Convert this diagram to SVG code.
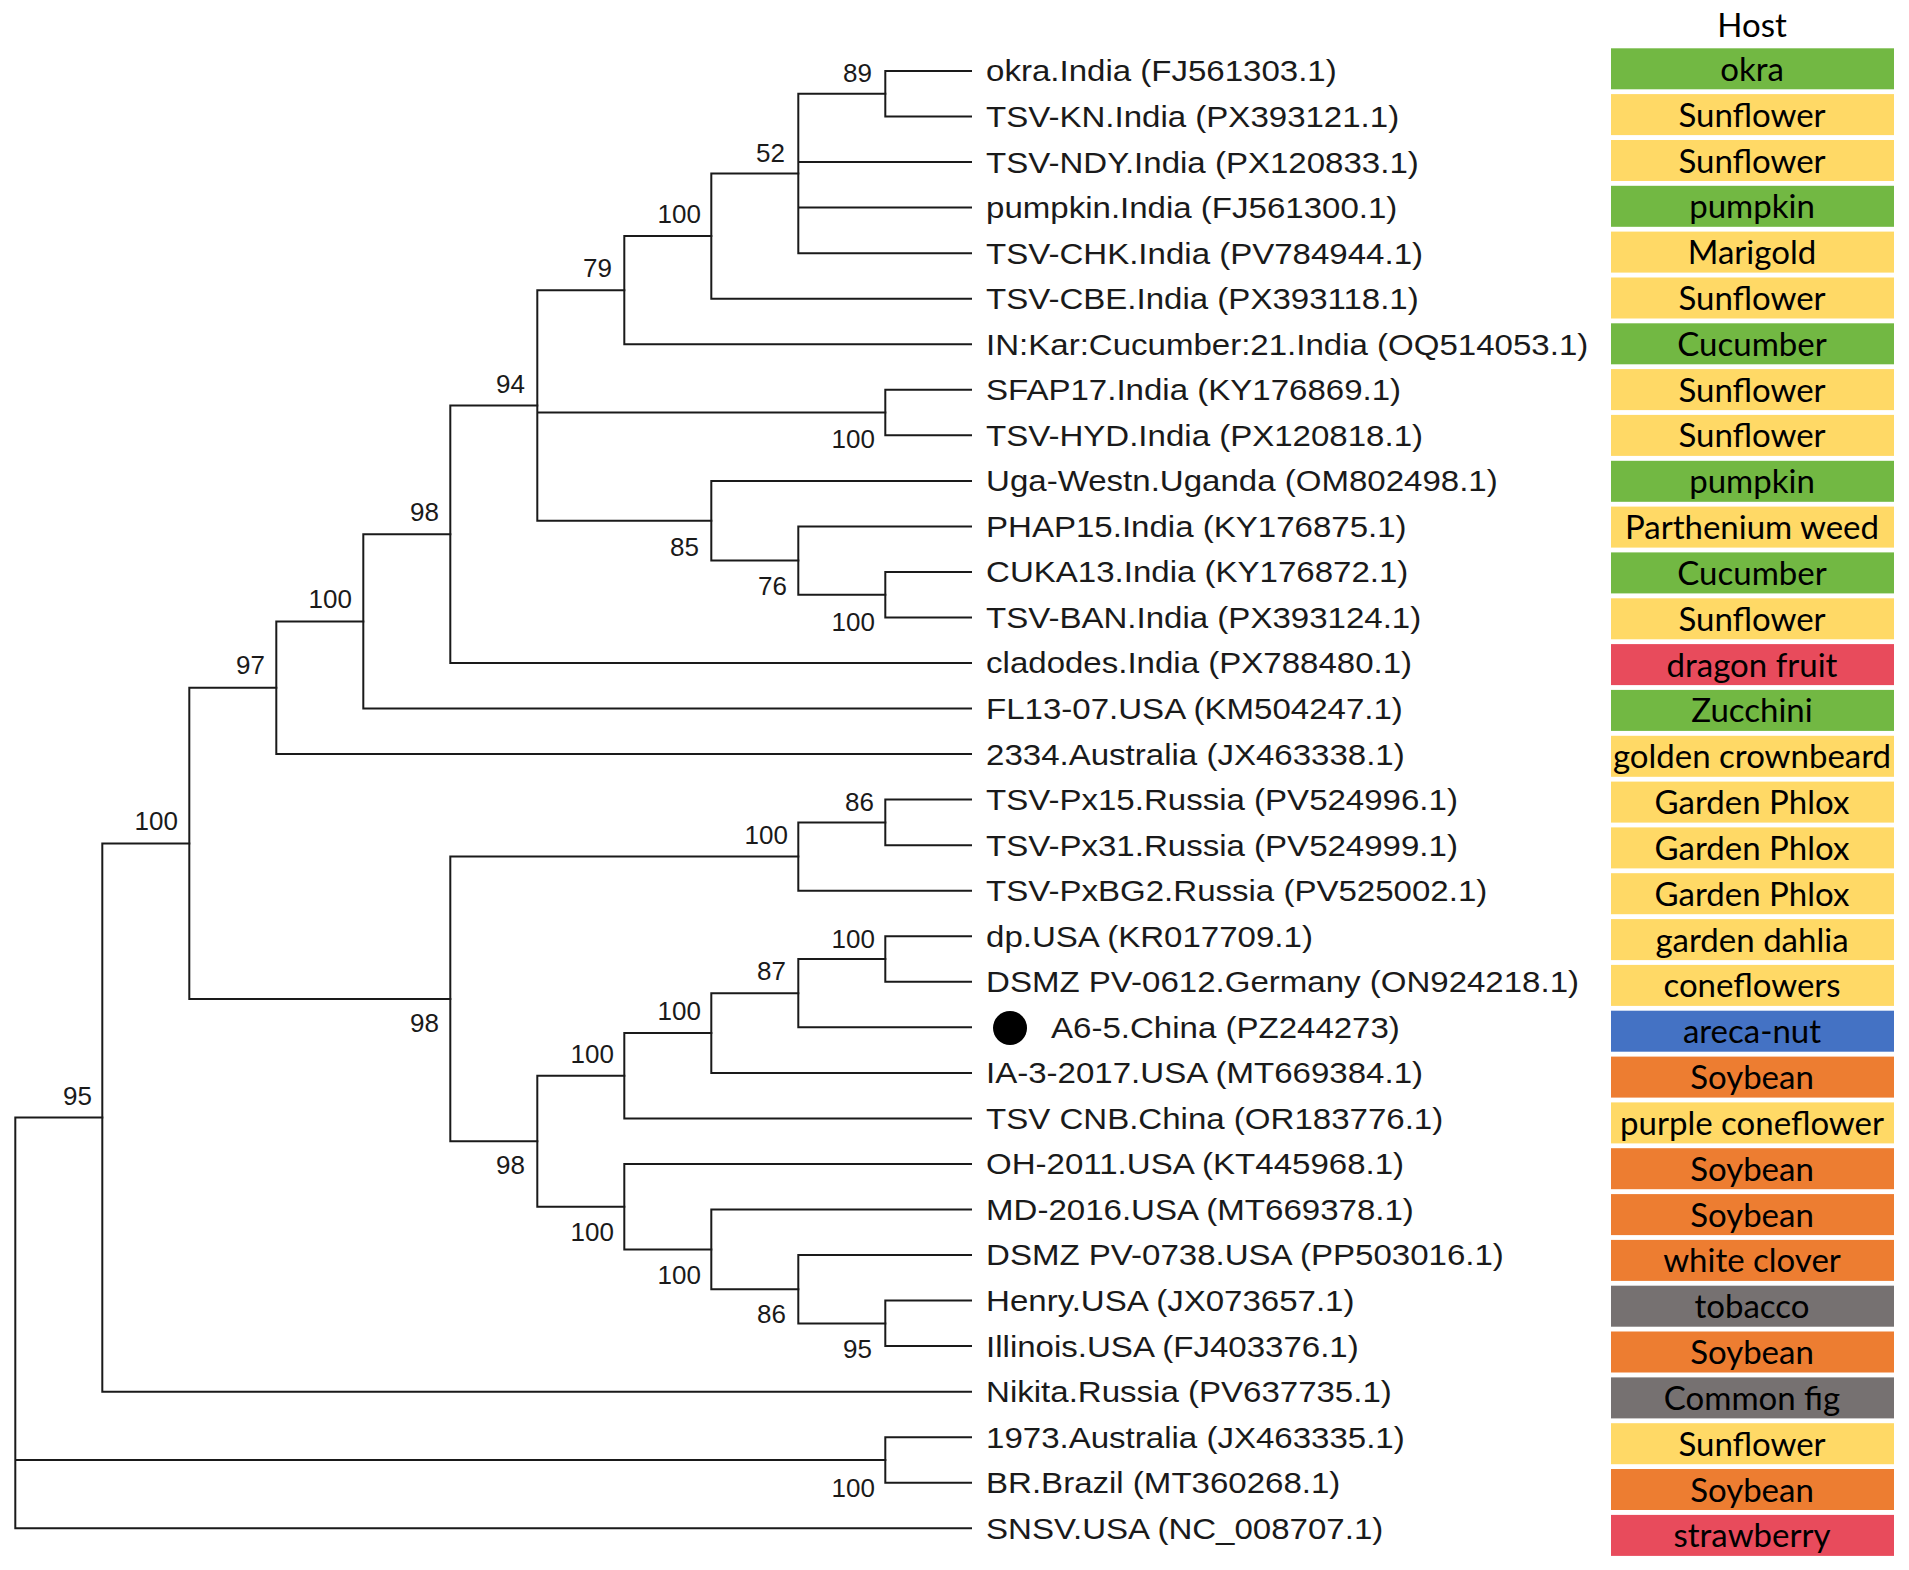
<svg xmlns="http://www.w3.org/2000/svg" width="1909" height="1570" viewBox="0 0 1909 1570">
<style>
.br{stroke:#1a1a1a;stroke-width:2;fill:none;stroke-linecap:square}
.lf{font-family:"Liberation Sans",Arial,sans-serif;font-size:29.5px;fill:#1a1a1a}
.bs{font-family:"Liberation Sans",Arial,sans-serif;font-size:26px;fill:#1a1a1a;text-anchor:end}
.ht{font-family:Lato,"Open Sans",sans-serif;font-size:33px;fill:#000;text-anchor:middle}
.g{fill:#72B843}.y{fill:#FFD966}.r{fill:#E84B5C}.b{fill:#4472C4}.o{fill:#ED7D31}.k{fill:#767171}
</style>
<rect width="1909" height="1570" fill="#fff"/>
<g id="connectors" class="br">
<!-- A -->
<path d="M885.3,71 V116.5 M885.3,71 H971 M885.3,116.5 H971"/>
<!-- B -->
<path d="M798.3,93.8 V253.2 M798.3,93.8 H885.3 M798.3,162.1 H971 M798.3,207.6 H971 M798.3,253.2 H971"/>
<!-- C -->
<path d="M711.3,173.5 V298.7 M711.3,173.5 H798.3 M711.3,298.7 H971"/>
<!-- D -->
<path d="M624.3,236.1 V344.2 M624.3,236.1 H711.3 M624.3,344.2 H971"/>
<!-- E -->
<path d="M885.3,389.8 V435.3 M885.3,389.8 H971 M885.3,435.3 H971"/>
<!-- G -->
<path d="M885.3,571.9 V617.5 M885.3,571.9 H971 M885.3,617.5 H971"/>
<!-- F -->
<path d="M798.3,526.4 V594.7 M798.3,526.4 H971 M798.3,594.7 H885.3"/>
<!-- H -->
<path d="M711.3,480.9 V560.6 M711.3,480.9 H971 M711.3,560.6 H798.3"/>
<!-- I -->
<path d="M537.3,290.2 V520.7 M537.3,290.2 H624.3 M537.3,412.6 H885.3 M537.3,520.7 H711.3"/>
<!-- J -->
<path d="M450.3,405.5 V663 M450.3,405.5 H537.3 M450.3,663 H971"/>
<!-- K -->
<path d="M363.3,534.3 V708.6 M363.3,534.3 H450.3 M363.3,708.6 H971"/>
<!-- L -->
<path d="M276.3,621.4 V754.1 M276.3,621.4 H363.3 M276.3,754.1 H971"/>
<!-- M -->
<path d="M885.3,799.6 V845.2 M885.3,799.6 H971 M885.3,845.2 H971"/>
<!-- N -->
<path d="M798.3,822.4 V890.7 M798.3,822.4 H885.3 M798.3,890.7 H971"/>
<!-- O -->
<path d="M885.3,936.3 V981.8 M885.3,936.3 H971 M885.3,981.8 H971"/>
<!-- P -->
<path d="M798.3,959 V1027.3 M798.3,959 H885.3 M798.3,1027.3 H971"/>
<!-- Q -->
<path d="M711.3,993.2 V1072.9 M711.3,993.2 H798.3 M711.3,1072.9 H971"/>
<!-- R -->
<path d="M624.3,1033 V1118.4 M624.3,1033 H711.3 M624.3,1118.4 H971"/>
<!-- S -->
<path d="M885.3,1300.6 V1346.1 M885.3,1300.6 H971 M885.3,1346.1 H971"/>
<!-- T -->
<path d="M798.3,1255 V1323.4 M798.3,1255 H971 M798.3,1323.4 H885.3"/>
<!-- U -->
<path d="M711.3,1209.5 V1289.2 M711.3,1209.5 H971 M711.3,1289.2 H798.3"/>
<!-- V -->
<path d="M624.3,1164 V1249.4 M624.3,1164 H971 M624.3,1249.4 H711.3"/>
<!-- W -->
<path d="M537.3,1075.7 V1206.7 M537.3,1075.7 H624.3 M537.3,1206.7 H624.3"/>
<!-- X -->
<path d="M450.3,856.6 V1141.2 M450.3,856.6 H798.3 M450.3,1141.2 H537.3"/>
<!-- Y -->
<path d="M189.3,687.8 V998.9 M189.3,687.8 H276.3 M189.3,998.9 H450.3"/>
<!-- Z -->
<path d="M102.3,843.4 V1391.7 M102.3,843.4 H189.3 M102.3,1391.7 H971"/>
<!-- AA -->
<path d="M885.3,1437.2 V1482.7 M885.3,1437.2 H971 M885.3,1482.7 H971"/>
<!-- root -->
<path d="M15.3,1117.5 V1528.3 M15.3,1117.5 H102.3 M15.3,1460 H885.3 M15.3,1528.3 H971"/>
</g>
<g id="support" class="bs">
<text x="872" y="82">89</text>
<text x="785" y="162">52</text>
<text x="701" y="223">100</text>
<text x="612" y="277">79</text>
<text x="525" y="393">94</text>
<text x="875" y="448">100</text>
<text x="699" y="556">85</text>
<text x="787" y="595">76</text>
<text x="875" y="631">100</text>
<text x="439" y="521">98</text>
<text x="352" y="608">100</text>
<text x="265" y="674">97</text>
<text x="178" y="830">100</text>
<text x="92" y="1105">95</text>
<text x="874" y="811">86</text>
<text x="788" y="844">100</text>
<text x="439" y="1032">98</text>
<text x="875" y="948">100</text>
<text x="786" y="980">87</text>
<text x="701" y="1020">100</text>
<text x="614" y="1063">100</text>
<text x="525" y="1174">98</text>
<text x="614" y="1241">100</text>
<text x="701" y="1284">100</text>
<text x="786" y="1323">86</text>
<text x="872" y="1358">95</text>
<text x="875" y="1497">100</text>
</g>
<g id="taxa" transform="scale(1.12,1)" class="lf">
<g id="t0"><text x="880.4" y="81.5">okra.India (FJ561303.1)</text></g>
<g id="t1"><text x="880.4" y="127">TSV-KN.India (PX393121.1)</text></g>
<g id="t2"><text x="880.4" y="172.6">TSV-NDY.India (PX120833.1)</text></g>
<g id="t3"><text x="880.4" y="218.1">pumpkin.India (FJ561300.1)</text></g>
<g id="t4"><text x="880.4" y="263.7">TSV-CHK.India (PV784944.1)</text></g>
<g id="t5"><text x="880.4" y="309.2">TSV-CBE.India (PX393118.1)</text></g>
<g id="t6"><text x="880.4" y="354.7">IN:Kar:Cucumber:21.India (OQ514053.1)</text></g>
<g id="t7"><text x="880.4" y="400.3">SFAP17.India (KY176869.1)</text></g>
<g id="t8"><text x="880.4" y="445.8">TSV-HYD.India (PX120818.1)</text></g>
<g id="t9"><text x="880.4" y="491.4">Uga-Westn.Uganda (OM802498.1)</text></g>
<g id="t10"><text x="880.4" y="536.9">PHAP15.India (KY176875.1)</text></g>
<g id="t11"><text x="880.4" y="582.4">CUKA13.India (KY176872.1)</text></g>
<g id="t12"><text x="880.4" y="628">TSV-BAN.India (PX393124.1)</text></g>
<g id="t13"><text x="880.4" y="673.5">cladodes.India (PX788480.1)</text></g>
<g id="t14"><text x="880.4" y="719.1">FL13-07.USA (KM504247.1)</text></g>
<g id="t15"><text x="880.4" y="764.6">2334.Australia (JX463338.1)</text></g>
<g id="t16"><text x="880.4" y="810.1">TSV-Px15.Russia (PV524996.1)</text></g>
<g id="t17"><text x="880.4" y="855.7">TSV-Px31.Russia (PV524999.1)</text></g>
<g id="t18"><text x="880.4" y="901.2">TSV-PxBG2.Russia (PV525002.1)</text></g>
<g id="t19"><text x="880.4" y="946.8">dp.USA (KR017709.1)</text></g>
<g id="t20"><text x="880.4" y="992.3">DSMZ PV-0612.Germany (ON924218.1)</text></g>
<g id="t21"><circle cx="901.8" cy="1028" r="17" transform="translate(901.8,1028) scale(0.8929,1) translate(-901.8,-1028)" fill="#000"/><text x="938.4" y="1037.8">A6-5.China (PZ244273)</text></g>
<g id="t22"><text x="880.4" y="1083.4">IA-3-2017.USA (MT669384.1)</text></g>
<g id="t23"><text x="880.4" y="1128.9">TSV CNB.China (OR183776.1)</text></g>
<g id="t24"><text x="880.4" y="1174.5">OH-2011.USA (KT445968.1)</text></g>
<g id="t25"><text x="880.4" y="1220">MD-2016.USA (MT669378.1)</text></g>
<g id="t26"><text x="880.4" y="1265.5">DSMZ PV-0738.USA (PP503016.1)</text></g>
<g id="t27"><text x="880.4" y="1311.1">Henry.USA (JX073657.1)</text></g>
<g id="t28"><text x="880.4" y="1356.6">Illinois.USA (FJ403376.1)</text></g>
<g id="t29"><text x="880.4" y="1402.2">Nikita.Russia (PV637735.1)</text></g>
<g id="t30"><text x="880.4" y="1447.7">1973.Australia (JX463335.1)</text></g>
<g id="t31"><text x="880.4" y="1493.2">BR.Brazil (MT360268.1)</text></g>
<g id="t32"><text x="880.4" y="1538.8">SNSV.USA (NC_008707.1)</text></g>
</g>
<g id="hosts">
<text class="ht" x="1752" y="37">Host</text>
<g id="h0"><rect class="g" x="1611" y="48.3" width="283" height="41"/><text class="ht" x="1752" y="80.8">okra</text></g>
<g id="h1"><rect class="y" x="1611" y="94.1" width="283" height="41"/><text class="ht" x="1752" y="126.6">Sunflower</text></g>
<g id="h2"><rect class="y" x="1611" y="140" width="283" height="41"/><text class="ht" x="1752" y="172.5">Sunflower</text></g>
<g id="h3"><rect class="g" x="1611" y="185.8" width="283" height="41"/><text class="ht" x="1752" y="218.3">pumpkin</text></g>
<g id="h4"><rect class="y" x="1611" y="231.6" width="283" height="41"/><text class="ht" x="1752" y="264.1">Marigold</text></g>
<g id="h5"><rect class="y" x="1611" y="277.5" width="283" height="41"/><text class="ht" x="1752" y="310">Sunflower</text></g>
<g id="h6"><rect class="g" x="1611" y="323.3" width="283" height="41"/><text class="ht" x="1752" y="355.8">Cucumber</text></g>
<g id="h7"><rect class="y" x="1611" y="369.1" width="283" height="41"/><text class="ht" x="1752" y="401.6">Sunflower</text></g>
<g id="h8"><rect class="y" x="1611" y="414.9" width="283" height="41"/><text class="ht" x="1752" y="447.4">Sunflower</text></g>
<g id="h9"><rect class="g" x="1611" y="460.8" width="283" height="41"/><text class="ht" x="1752" y="493.3">pumpkin</text></g>
<g id="h10"><rect class="y" x="1611" y="506.6" width="283" height="41"/><text class="ht" x="1752" y="539.1">Parthenium weed</text></g>
<g id="h11"><rect class="g" x="1611" y="552.4" width="283" height="41"/><text class="ht" x="1752" y="584.9">Cucumber</text></g>
<g id="h12"><rect class="y" x="1611" y="598.3" width="283" height="41"/><text class="ht" x="1752" y="630.8">Sunflower</text></g>
<g id="h13"><rect class="r" x="1611" y="644.1" width="283" height="41"/><text class="ht" x="1752" y="676.6">dragon fruit</text></g>
<g id="h14"><rect class="g" x="1611" y="689.9" width="283" height="41"/><text class="ht" x="1752" y="722.4">Zucchini</text></g>
<g id="h15"><rect class="y" x="1611" y="735.8" width="283" height="41"/><text class="ht" x="1752" y="768.3">golden crownbeard</text></g>
<g id="h16"><rect class="y" x="1611" y="781.6" width="283" height="41"/><text class="ht" x="1752" y="814.1">Garden Phlox</text></g>
<g id="h17"><rect class="y" x="1611" y="827.4" width="283" height="41"/><text class="ht" x="1752" y="859.9">Garden Phlox</text></g>
<g id="h18"><rect class="y" x="1611" y="873.2" width="283" height="41"/><text class="ht" x="1752" y="905.7">Garden Phlox</text></g>
<g id="h19"><rect class="y" x="1611" y="919.1" width="283" height="41"/><text class="ht" x="1752" y="951.6">garden dahlia</text></g>
<g id="h20"><rect class="y" x="1611" y="964.9" width="283" height="41"/><text class="ht" x="1752" y="997.4">coneflowers</text></g>
<g id="h21"><rect class="b" x="1611" y="1010.7" width="283" height="41"/><text class="ht" x="1752" y="1043.2">areca-nut</text></g>
<g id="h22"><rect class="o" x="1611" y="1056.6" width="283" height="41"/><text class="ht" x="1752" y="1089.1">Soybean</text></g>
<g id="h23"><rect class="y" x="1611" y="1102.4" width="283" height="41"/><text class="ht" x="1752" y="1134.9">purple coneflower</text></g>
<g id="h24"><rect class="o" x="1611" y="1148.2" width="283" height="41"/><text class="ht" x="1752" y="1180.7">Soybean</text></g>
<g id="h25"><rect class="o" x="1611" y="1194.1" width="283" height="41"/><text class="ht" x="1752" y="1226.6">Soybean</text></g>
<g id="h26"><rect class="o" x="1611" y="1239.9" width="283" height="41"/><text class="ht" x="1752" y="1272.4">white clover</text></g>
<g id="h27"><rect class="k" x="1611" y="1285.7" width="283" height="41"/><text class="ht" x="1752" y="1318.2">tobacco</text></g>
<g id="h28"><rect class="o" x="1611" y="1331.5" width="283" height="41"/><text class="ht" x="1752" y="1364">Soybean</text></g>
<g id="h29"><rect class="k" x="1611" y="1377.4" width="283" height="41"/><text class="ht" x="1752" y="1409.9">Common fig</text></g>
<g id="h30"><rect class="y" x="1611" y="1423.2" width="283" height="41"/><text class="ht" x="1752" y="1455.7">Sunflower</text></g>
<g id="h31"><rect class="o" x="1611" y="1469" width="283" height="41"/><text class="ht" x="1752" y="1501.5">Soybean</text></g>
<g id="h32"><rect class="r" x="1611" y="1514.9" width="283" height="41"/><text class="ht" x="1752" y="1547.4">strawberry</text></g>
</g>
</svg>
